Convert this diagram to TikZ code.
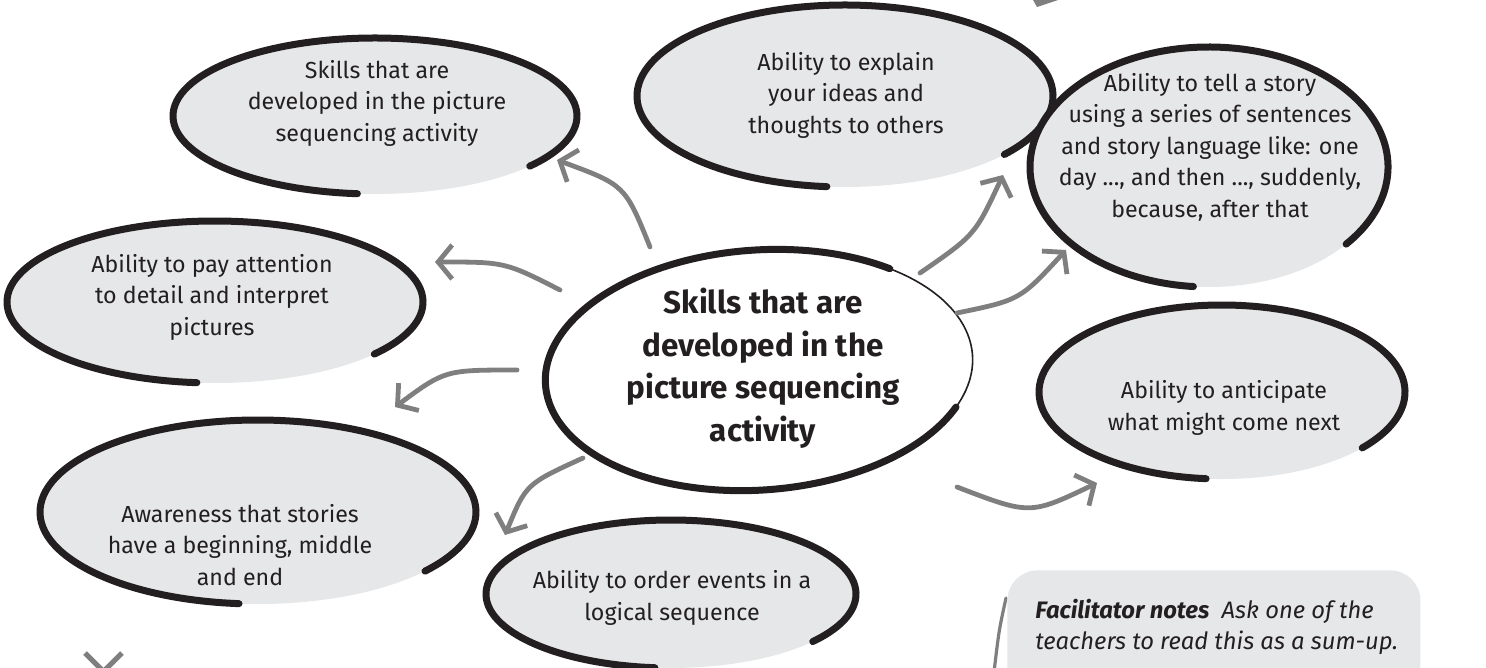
\documentclass[tikz,border=0pt]{standalone}
\usepackage{fontspec}
\setmainfont{Fira Sans}
\usetikzlibrary{shapes.geometric,arrows.meta}
\definecolor{ink}{HTML}{231F20}
\definecolor{bubblefill}{HTML}{E6E7E8}
\definecolor{arrowgray}{HTML}{7F7F7F}
\tikzset{
  bubbletext/.style={align=center, text=ink, font=\fontsize{11.6}{15.75}\selectfont, inner sep=0pt},
  hubtext/.style={align=center, text=ink, font=\fontsize{15.7}{21.25}\selectfont\bfseries, inner sep=0pt},
  rim/.style={draw=ink, line width=3.5pt, line cap=round},
  thinrim/.style={draw=ink, line width=0.8pt, line cap=round},
  arr/.style={draw=arrowgray, line width=2.4pt, line cap=round,
    -{Straight Barb[length=7pt,width=17pt,line width=2.4pt]}},
  notebox/.style={fill=bubblefill, rounded corners=15pt, draw=none},
}
% name, cx, cy, rx, ry, text, tx, ty
\newcommand{\skillbubble}[8]{%
  \fill[bubblefill] (#2,#3) ellipse [x radius=#4, y radius=#5];
  \draw[rim] ([shift={(95:#4 and #5)}]#2,#3) arc [start angle=95, end angle=400, x radius=#4, y radius=#5];
  \node[bubbletext] (#1) at (#7,#8) {#6};
}
\begin{document}
\begin{tikzpicture}[x=0.5pt,y=-0.5pt]
\useasboundingbox (0,0) rectangle (1486,668);
\clip (0,0) rectangle (1486,668);

% outer bubbles
\skillbubble{s1}{375}{116}{202}{78}{Skills that are\\developed in the picture\\sequencing activity}{377}{103}
\skillbubble{s2}{845}{96}{208}{91}{Ability to explain\\your ideas and\\thoughts to others}{846}{95}
\skillbubble{s3}{1209}{167}{179}{120}{Ability to tell a story\\using a series of sentences\\and story language like: one\\day ..., and then ..., suddenly,\\because, after that}{1210}{147}
\skillbubble{s4}{215}{302}{208}{81}{Ability to pay attention\\to detail and interpret\\pictures}{212}{297}
\skillbubble{s5}{258}{512}{218}{92}{Awareness that stories\\have a beginning, middle\\and end}{240}{545}
\skillbubble{s6}{671}{594}{185}{74}{Ability to order events in a\\logical sequence}{672}{598}
\skillbubble{s7}{1222}{392}{183}{87}{Ability to anticipate\\what might come next}{1224}{408}

% hub
\begin{scope}[rotate around={4:(759,370)}]
  \fill[white] (759,370) ellipse [x radius=214, y radius=120];
  \draw[rim] ([shift={(25:214 and 120)}]759,370) arc [start angle=25, end angle=310, x radius=214, y radius=120];
  \draw[thinrim] ([shift={(308:214 and 120)}]759,370) arc [start angle=308, end angle=387, x radius=214, y radius=120];
\end{scope}
\node[hubtext] (hub) at (763,368) {Skills that are\\developed in the\\picture sequencing\\activity};

% arrow end points
\coordinate (a1s) at (650,247); \coordinate (a1e) at (557,160);
\coordinate (a2s) at (560,290); \coordinate (a2e) at (435,262);
\coordinate (a3s) at (517,370); \coordinate (a3e) at (395,407);
\coordinate (a4s) at (583,458); \coordinate (a4e) at (505,535);
\coordinate (a5s) at (920,273); \coordinate (a5e) at (1003,175);
\coordinate (a6s) at (957,313); \coordinate (a6e) at (1066,250);
\coordinate (a7s) at (957,487); \coordinate (a7e) at (1097,483);

\draw[arr] (a1s) .. controls (625,185) .. (a1e);
\draw[arr] (a2s) .. controls (505,262) .. (a2e);
\draw[arr] (a3s) .. controls (445,370) .. (a3e);
\draw[arr] (a4s) .. controls (526,484) .. (a4e);
\draw[arr] (a5s) .. controls (975,235) .. (a5e);
\draw[arr] (a6s) .. controls (1020,300) .. (a6e);
\draw[arr] (a7s) .. controls (1030,515) .. (a7e);

% partial marks at the edges
\fill[arrowgray] (1033,0) -- (1037,7) -- (1058,0) -- cycle;
\draw[arrowgray, line width=1.6pt, line cap=round] (1006,598) .. controls (999,630) .. (994,672);
\draw[arrowgray, line width=2.5pt] (85,653) -- (122,690) (122,653) -- (85,690);

% facilitator notes
\node[notebox, anchor=north west, minimum width=206.5pt, minimum height=70pt] (notes) at (1007,570) {};
\node[anchor=north west, align=left, text=ink, inner sep=0pt,
      font=\fontsize{11.9}{15.5}\selectfont\itshape] (notetext) at (1035,599)
  {\textbf{Facilitator notes}\ \ Ask one of the\\teachers to read this as a sum-up.};
\end{tikzpicture}
\end{document}
